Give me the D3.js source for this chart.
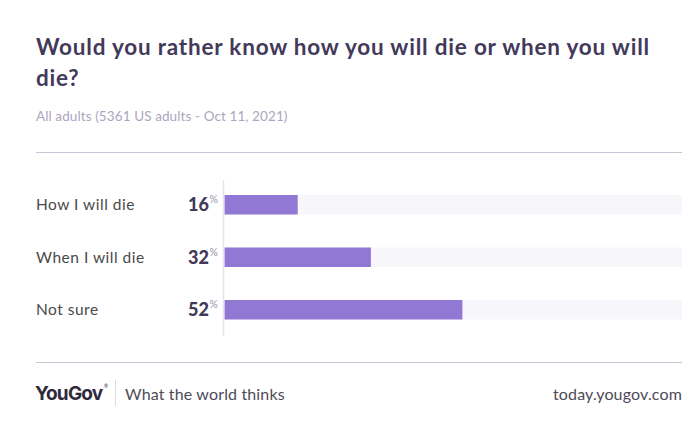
<!DOCTYPE html>
<html><head><meta charset="utf-8">
<script src="https://cdn.jsdelivr.net/npm/d3@7/dist/d3.min.js"></script>
<style>body{margin:0;background:#fff}svg{display:block}</style>
</head><body>
<script>
const categories = ["How I will die", "When I will die", "Not sure"];
const values = [16, 32, 52];
const titleLines = ["Would you rather know how you will die or when you will", "die?"];
const subtitle = "All adults (5361 US adults - Oct 11, 2021)";

const W = 700, H = 432;
const svg = d3.select("body").append("svg").attr("width", W).attr("height", H);
const font = "Lato, 'Open Sans', sans-serif";

svg.append("g").selectAll("text").data(titleLines).join("text")
  .attr("x", 36).attr("y", (d,i) => 55 + i*31)
  .attr("font-family", font).attr("font-weight", 700).attr("font-size", 22.5)
  .attr("letter-spacing", 0.8)
  .attr("fill", "#43395a").text(d => d);

svg.append("text").attr("x", 36).attr("y", 121)
  .attr("font-family", font).attr("font-size", 13.5).attr("letter-spacing", 0.1)
  .attr("fill", "#aca6bf").text(subtitle);

svg.append("line").attr("x1", 36).attr("x2", 682).attr("y1", 152.5).attr("y2", 152.5)
  .attr("stroke", "#c9c5d6").attr("stroke-width", 1);

const x = d3.scaleLinear().domain([0, 100]).range([224.5, 682]);
const y = d3.scaleBand().domain(categories).range([180, 334.5]).paddingInner(0.6286).paddingOuter(0.2857);

svg.append("g").selectAll("rect.bg").data(categories).join("rect")
  .attr("x", x(0)).attr("y", d => y(d)).attr("width", x(100) - x(0)).attr("height", y.bandwidth())
  .attr("fill", "#f7f6fb");

svg.append("g").selectAll("rect.bar").data(values).join("rect")
  .attr("x", x(0)).attr("y", (d,i) => y(categories[i])).attr("width", d => x(d) - x(0)).attr("height", y.bandwidth())
  .attr("fill", "#9178d5");

svg.append("line").attr("x1", 223.5).attr("x2", 223.5).attr("y1", 180).attr("y2", 336)
  .attr("stroke", "#e6e3ee").attr("stroke-width", 1.5);

svg.append("g").selectAll("text").data(categories).join("text")
  .attr("x", 36).attr("y", d => y(d) + y.bandwidth()/2 + 5.5)
  .attr("font-family", font).attr("font-size", 15.5).attr("letter-spacing", 0.5)
  .attr("fill", "#4a4a4a").text(d => d);

const vg = svg.append("g").selectAll("g").data(values).join("g")
  .attr("transform", (d,i) => `translate(0,${y(categories[i]) + y.bandwidth()/2 + 6.5})`);
vg.append("text").attr("x", 209).attr("text-anchor", "end")
  .attr("font-family", font).attr("font-weight", 900).attr("font-size", 18).attr("fill", "#43395a")
  .text(d => d);
vg.append("text").attr("x", 209.5).attr("y", -8)
  .attr("font-family", font).attr("font-size", 10.5).attr("fill", "#9a94a8").text("%");

svg.append("line").attr("x1", 36).attr("x2", 682).attr("y1", 362.5).attr("y2", 362.5)
  .attr("stroke", "#c9c5d6").attr("stroke-width", 1);

svg.append("text").attr("x", 35).attr("y", 400)
  .attr("font-family", "Inter, Roboto, sans-serif").attr("font-weight", 700).attr("font-size", 19)
  .attr("letter-spacing", -0.8).attr("fill", "#2f2a3b").text("YouGov");
svg.append("text").attr("x", 104).attr("y", 388)
  .attr("font-family", font).attr("font-size", 5).attr("fill", "#2f2a3b").text("®");
svg.append("line").attr("x1", 115.5).attr("x2", 115.5).attr("y1", 380).attr("y2", 406)
  .attr("stroke", "#dcd9e4").attr("stroke-width", 1);
svg.append("text").attr("x", 125).attr("y", 400)
  .attr("font-family", font).attr("font-size", 16).attr("letter-spacing", 0.15)
  .attr("fill", "#4e4a58").text("What the world thinks");
svg.append("text").attr("x", 682).attr("y", 400).attr("text-anchor", "end")
  .attr("font-family", font).attr("font-size", 16).attr("letter-spacing", 0.15)
  .attr("fill", "#4e4a58").text("today.yougov.com");
</script>
</body></html>
